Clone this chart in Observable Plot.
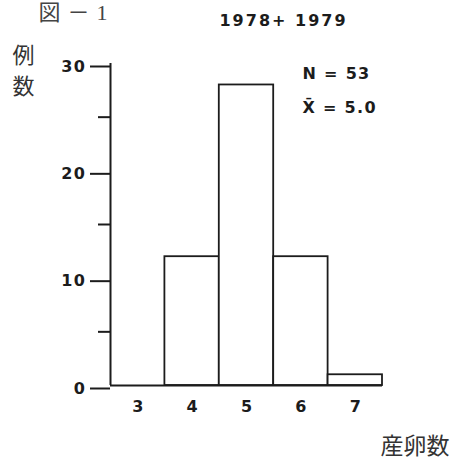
<!DOCTYPE html>
<html><head><meta charset="utf-8">
<script src="https://cdn.jsdelivr.net/npm/d3@7"></script>
<script src="https://cdn.jsdelivr.net/npm/@observablehq/plot@0.6"></script>
<style>body{margin:0;background:#fff}</style>
</head><body><div id="chart"></div>
<script>
const eggCounts = [3, 4, 5, 6, 7];
const cases = [0, 12, 28, 12, 1];
const yMajorTicks = [0, 10, 20, 30];
const yMinorTicks = [5, 15, 25];
const xTickValues = [3, 4, 5, 6, 7];
const figLabel = "図－1";
const title = "1978+ 1979";
const yLabel = "例\n数";
const xLabel = "産卵数";
const statN = "N = 53";
const statMean = "X\u0304 = 5.0";

const data = eggCounts.map((k, i) => ({k, n: cases[i]}));
const ink = "#1c1c1c";
const num = "'DejaVu Sans', sans-serif";
const cjk = "'Noto Sans CJK JP', sans-serif";

const chart = Plot.plot({
  width: 458, height: 463,
  marginLeft: 110, marginRight: 76, marginTop: 63, marginBottom: 78,
  style: {background: "#fff", color: ink, fontFamily: num, fontWeight: "bold", fontSize: "15px", overflow: "visible"},
  x: {domain: [2.5, 7.5]},
  y: {domain: [0, 30]},
  marks: [
    Plot.rectY(data.filter(d => d.n > 0), {x1: d => d.k - 0.5, x2: d => d.k + 0.5, y1: 0, y2: "n", fill: "#fff", stroke: ink, strokeWidth: 1.8, inset: 0}),
    Plot.ruleY([0], {x1: 2.5, x2: 7.5, stroke: ink, strokeWidth: 2}),
    Plot.ruleX([2.5], {y1: 0, y2: 30, stroke: ink, strokeWidth: 2}),
    Plot.axisY({ticks: yMajorTicks, tickSize: 20, tickPadding: 4, strokeWidth: 2, stroke: ink, fontSize: 16, fontWeight: "bold", fontFamily: num, label: null, dy: 3}),
    Plot.axisY({ticks: yMinorTicks, tickSize: 12, tickFormat: () => "", strokeWidth: 2, stroke: ink, label: null}),
    Plot.axisX({ticks: xTickValues, tickFormat: d3.format("d"), tickSize: 0, tickPadding: 15, fontSize: 16, fontWeight: "bold", fontFamily: num, label: null}),
    Plot.text([figLabel], {text: d => d, frameAnchor: "top-left", dx: -72, dy: -51, textAnchor: "start", lineAnchor: "middle", fontSize: 22, fontWeight: "normal", fontFamily: "'Liberation Serif','Noto Sans CJK JP',serif", fill: "#444"}),
    Plot.text([title], {text: d => d, frameAnchor: "top-left", dx: 173, dy: -43, textAnchor: "middle", lineAnchor: "middle", fontSize: 16, fontWeight: "bold", fontFamily: num, fill: ink}),
    Plot.text([yLabel], {text: d => d, frameAnchor: "top-left", dx: -87, dy: 5, textAnchor: "middle", lineAnchor: "middle", lineHeight: 1.4, fontSize: 22, fontWeight: "normal", fontFamily: cjk, fill: "#333"}),
    Plot.text([statN], {text: d => d, frameAnchor: "top-left", dx: 192, dy: 10, textAnchor: "start", lineAnchor: "middle", fontSize: 16, fontWeight: "bold", fontFamily: num, fill: ink}),
    Plot.text([statMean], {text: d => d, frameAnchor: "top-left", dx: 192, dy: 44, textAnchor: "start", lineAnchor: "middle", fontSize: 16, fontWeight: "bold", fontFamily: num, fill: ink}),
    Plot.text([xLabel], {text: d => d, frameAnchor: "bottom-right", dx: -2, dy: 61, textAnchor: "start", lineAnchor: "middle", fontSize: 23, fontWeight: "normal", fontFamily: cjk, fill: "#333"})
  ]
});
const spacing = new Map([[title, "2px"], [statN, "1.3px"], [statMean, "1.3px"], [figLabel, "7px"]]);
for (const t of yMajorTicks) spacing.set(String(t), "1.5px");
d3.select(chart).selectAll("text").each(function () {
  const s = spacing.get(this.textContent);
  if (s) this.setAttribute("letter-spacing", s);
});
document.getElementById("chart").appendChild(chart);
</script>
</body></html>
